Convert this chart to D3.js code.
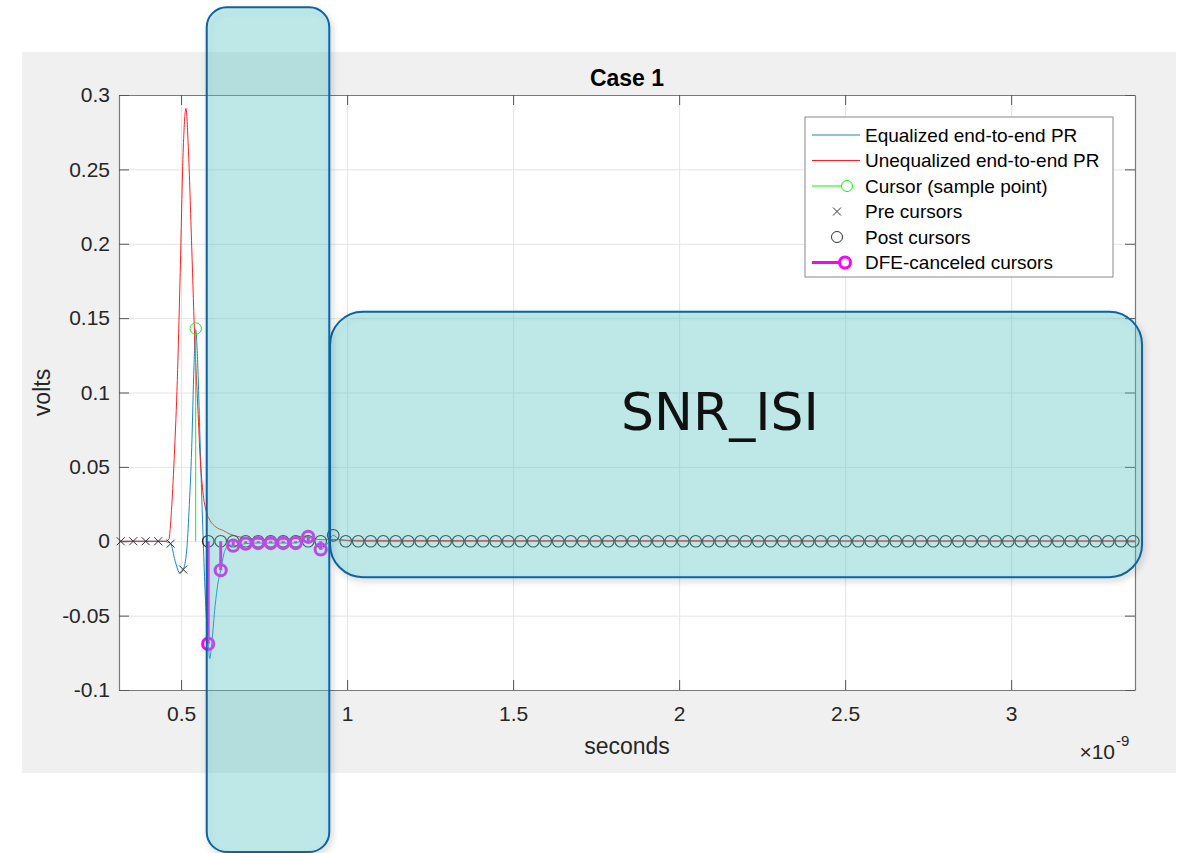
<!DOCTYPE html>
<html>
<head>
<meta charset="utf-8">
<script src="https://cdn.jsdelivr.net/npm/d3@7"></script>
<style>
    body { margin: 0; background: #fff; }
    svg text { font-family: "Liberation Sans", Arial, sans-serif; }
</style>
</head>
<body>
<div id="chart"></div>
<script>
// axis ticks
const xTicks = [0.5, 1, 1.5, 2, 2.5, 3];
const xTickLabels = ['0.5', '1', '1.5', '2', '2.5', '3'];
const yTicks = [-0.1, -0.05, 0, 0.05, 0.1, 0.15, 0.2, 0.25, 0.3];
const yTickLabels = ['-0.1', '-0.05', '0', '0.05', '0.1', '0.15', '0.2', '0.25', '0.3'];

// equalized pulse response (time in ns, volts)
const eqTime = [0.313, 0.4516, 0.4576, 0.4687, 0.4817, 0.4967, 0.5064, 0.517, 0.5238, 0.532, 0.5389, 0.544,
    0.55, 0.5555, 0.5615, 0.5675, 0.5736, 0.5817, 0.5862, 0.5931, 0.6022, 0.6112, 0.6193, 0.6323, 0.6473,
    0.657, 0.6946, 0.7323, 0.7699, 0.8076, 0.8452, 0.8642, 0.8829, 0.9004, 0.9205, 0.9395, 0.9582, 0.9787,
    1.039, 1.5, 2.0, 2.5, 3.0, 3.373];
const eqVolts = [0, 0, -0.0005, -0.0016, -0.013, -0.0215, -0.019, -0.006, 0.02, 0.063, 0.118, 0.142,
    0.12, 0.08, 0.035, -0.005, -0.04, -0.069, -0.079, -0.067, -0.044, -0.028, -0.0195, -0.006, -0.0025,
    -0.003, -0.0016, -0.0012, -0.0012, -0.0012, -0.0012, 0.001, 0.003, 0, -0.0055, -0.002, 0.004, 0.001,
    0, 0, 0, 0, 0, 0];

// unequalized pulse response
const uneqTime = [0.313, 0.45, 0.4585, 0.4636, 0.4666, 0.4717, 0.4801, 0.4886, 0.4967, 0.5067, 0.5148,
    0.5217, 0.532, 0.5419, 0.5494, 0.557, 0.5669, 0.5772, 0.5871, 0.6052, 0.6271, 0.6473, 0.6675, 0.6925,
    0.7377, 0.7979, 0.825, 0.85, 0.873, 0.895, 0.925, 0.96, 1.0, 1.5, 2.0, 2.5, 3.0, 3.373];
const uneqVolts = [0, 0, 0.0005, 0.0015, 0.007, 0.023, 0.06, 0.108, 0.175, 0.265, 0.291,
    0.265, 0.198, 0.131, 0.095, 0.058, 0.031, 0.019, 0.014, 0.0095, 0.0072, 0.0048, 0.0034, 0.0022,
    0.0013, 0.0009, 0.0015, 0.003, 0.0035, 0.002, 0.001, 0.0012, 0.0006, 0.0004, 0.0004, 0.0003, 0.0003, 0.0003];

// sampled cursors
const cursorTime = 0.544;
const cursorVolts = 0.143;
const symbolTime = 0.03765;
const preCursorVolts = [0, 0, 0, 0, -0.0016, -0.019];
const postCursorVolts = [
    0, 0, 0, 0, 0, 0, 0, 0, 0, 0,
    0.004, 0, 0, 0, 0, 0, 0, 0, 0, 0,
    0, 0, 0, 0, 0, 0, 0, 0, 0, 0,
    0, 0, 0, 0, 0, 0, 0, 0, 0, 0,
    0, 0, 0, 0, 0, 0, 0, 0, 0, 0,
    0, 0, 0, 0, 0, 0, 0, 0, 0, 0,
    0, 0, 0, 0, 0, 0, 0, 0, 0, 0,
    0, 0, 0, 0, 0
];
const dfeVolts = [-0.069, -0.0195, -0.003, -0.0016, -0.0012, -0.0012, -0.0012, -0.0012, 0.003, -0.0055];

const legendLabels = ['Equalized end-to-end PR', 'Unequalized end-to-end PR', 'Cursor (sample point)',
    'Pre cursors', 'Post cursors', 'DFE-canceled cursors'];

// highlighted regions, in data units
const bands = [
    { x0: 0.9486, x1: 3.3943, y0: -0.0242, y1: 0.1543, r: 33, label: 'SNR_ISI', lx: 2.123, ly: 0.0748 },
    { x0: 0.5772, x1: 0.9464, y0: -0.2089, y1: 0.359, r: 20 }
];

const W = 1182, H = 853;
const margin = { top: 95, left: 119 };
const width = 1016, height = 595;

const svg = d3.select('#chart').append('svg')
    .attr('width', W)
    .attr('height', H);

const shadow = svg.append('defs').append('filter')
    .attr('id', 'shadow')
    .attr('x', '-10%').attr('y', '-10%')
    .attr('width', '130%').attr('height', '130%');
shadow.append('feDropShadow')
    .attr('dx', 2).attr('dy', 3)
    .attr('stdDeviation', 3)
    .attr('flood-color', '#000')
    .attr('flood-opacity', 0.25);

// figure background
svg.append('rect')
    .attr('x', 22).attr('y', 52)
    .attr('width', 1154).attr('height', 721)
    .attr('fill', '#f0f0f0');

const chart = svg.append('g')
    .attr('transform', `translate(${margin.left},${margin.top})`);

chart.append('rect')
    .attr('width', width)
    .attr('height', height)
    .attr('fill', '#fff');

const xScale = d3.scaleLinear().domain([0.313, 3.373]).range([0, width]);
const yScale = d3.scaleLinear().domain([-0.1, 0.3]).range([height, 0]);

// gridlines
chart.append('g')
    .attr('transform', `translate(0,${height})`)
    .call(d3.axisBottom(xScale).tickValues(xTicks).tickSize(-height).tickFormat(''))
    .call(g => g.select('.domain').remove())
    .selectAll('line').attr('stroke', '#e4e4e4');
chart.append('g')
    .call(d3.axisLeft(yScale).tickValues(yTicks).tickSize(-width).tickFormat(''))
    .call(g => g.select('.domain').remove())
    .selectAll('line').attr('stroke', '#e4e4e4');

// axes (box with inward ticks on every side)
const styleAxis = g => {
    g.select('.domain').attr('stroke', '#7a7a7a').attr('stroke-width', 1.2);
    g.selectAll('.tick line').attr('stroke', '#555');
    g.selectAll('text')
        .attr('fill', '#262626')
        .style('font-size', '21px')
        .style('font-family', '"Liberation Sans", Arial, sans-serif');
};
chart.append('g')
    .attr('transform', `translate(0,${height})`)
    .call(d3.axisBottom(xScale).tickValues(xTicks).tickFormat((d, i) => xTickLabels[i])
        .tickSize(-10).tickSizeOuter(0).tickPadding(16))
    .call(styleAxis);
chart.append('g')
    .call(d3.axisTop(xScale).tickValues(xTicks).tickFormat('').tickSize(-10).tickSizeOuter(0))
    .call(styleAxis);
chart.append('g')
    .call(d3.axisLeft(yScale).tickValues(yTicks).tickFormat((d, i) => yTickLabels[i])
        .tickSize(-10).tickSizeOuter(0).tickPadding(9))
    .call(styleAxis);
chart.append('g')
    .attr('transform', `translate(${width},0)`)
    .call(d3.axisRight(yScale).tickValues(yTicks).tickFormat('').tickSize(-10).tickSizeOuter(0))
    .call(styleAxis);

// pulse responses
const line = d3.line()
    .x(d => xScale(d[0]))
    .y(d => yScale(d[1]))
    .curve(d3.curveMonotoneX);

chart.append('path')
    .datum(d3.zip(eqTime, eqVolts))
    .attr('d', line)
    .attr('fill', 'none')
    .attr('stroke', '#1a86d0')
    .attr('stroke-width', 1);

chart.append('path')
    .datum(d3.zip(uneqTime, uneqVolts))
    .attr('d', line)
    .attr('fill', 'none')
    .attr('stroke', '#ff2020')
    .attr('stroke-width', 1);

// cursor stem
chart.append('line')
    .attr('x1', xScale(cursorTime)).attr('x2', xScale(cursorTime))
    .attr('y1', yScale(0)).attr('y2', yScale(cursorVolts))
    .attr('stroke', '#00ff00');
chart.append('circle')
    .attr('cx', xScale(cursorTime))
    .attr('cy', yScale(cursorVolts))
    .attr('r', 5.7)
    .attr('fill', 'none')
    .attr('stroke', '#00ff00');

// pre cursors
const preData = preCursorVolts.map((v, i) => ({ t: cursorTime - (preCursorVolts.length - i) * symbolTime, v }));
chart.selectAll('.pre')
    .data(preData)
    .join('path')
    .attr('class', 'pre')
    .attr('transform', d => `translate(${xScale(d.t)},${yScale(d.v)})`)
    .attr('d', 'M-4,-4L4,4M-4,4L4,-4')
    .attr('stroke', '#333')
    .attr('stroke-width', 1);

// post cursors
const postData = postCursorVolts.map((v, i) => ({ t: cursorTime + (i + 1) * symbolTime, v }));
chart.selectAll('.post')
    .data(postData)
    .join('circle')
    .attr('class', 'post')
    .attr('cx', d => xScale(d.t))
    .attr('cy', d => yScale(d.v))
    .attr('r', 5.8)
    .attr('fill', 'none')
    .attr('stroke', '#2a2a2a')
    .attr('stroke-width', 1.1);

// DFE-canceled cursors (stems)
const dfeData = dfeVolts.map((v, i) => ({ t: cursorTime + (i + 1) * symbolTime, v }));
const dfe = chart.selectAll('.dfe')
    .data(dfeData)
    .join('g')
    .attr('class', 'dfe');
dfe.append('line')
    .attr('x1', d => xScale(d.t)).attr('x2', d => xScale(d.t))
    .attr('y1', yScale(0)).attr('y2', d => yScale(d.v))
    .attr('stroke', '#ff00ff')
    .attr('stroke-width', 3);
dfe.append('circle')
    .attr('cx', d => xScale(d.t))
    .attr('cy', d => yScale(d.v))
    .attr('r', 5.6)
    .attr('fill', 'none')
    .attr('stroke', '#ff00ff')
    .attr('stroke-width', 3);

// titles
svg.append('text')
    .attr('x', margin.left + width / 2).attr('y', 86)
    .attr('text-anchor', 'middle')
    .style('font-size', '23px').style('font-weight', 'bold')
    .attr('fill', '#000')
    .text('Case 1');
svg.append('text')
    .attr('x', margin.left + width / 2).attr('y', 754)
    .attr('text-anchor', 'middle')
    .style('font-size', '23px')
    .attr('fill', '#262626')
    .text('seconds');
svg.append('text')
    .attr('transform', `translate(50,${margin.top + height / 2}) rotate(-90)`)
    .attr('text-anchor', 'middle')
    .style('font-size', '23px')
    .attr('fill', '#262626')
    .text('volts');
svg.append('text')
    .attr('x', 1115).attr('y', 759)
    .attr('text-anchor', 'end')
    .style('font-size', '21px')
    .attr('fill', '#262626')
    .text('×10');
svg.append('text')
    .attr('x', 1116).attr('y', 746)
    .style('font-size', '15px')
    .attr('fill', '#262626')
    .text('-9');

// legend
const legend = svg.append('g').attr('transform', 'translate(805,117)');
legend.append('rect')
    .attr('width', 308).attr('height', 160)
    .attr('fill', '#fff')
    .attr('stroke', '#8a8a8a');
const rows = legend.selectAll('.row')
    .data(legendLabels)
    .join('g')
    .attr('class', 'row')
    .attr('transform', (d, i) => `translate(0,${18 + i * 25.5})`);
rows.append('text')
    .attr('x', 60).attr('dy', '0.35em')
    .style('font-size', '19px')
    .attr('fill', '#000')
    .text(d => d);
rows.each(function (d, i) {
    const r = d3.select(this);
    if (i === 0 || i === 1) {
        r.append('line').attr('x1', 7).attr('x2', 55)
            .attr('stroke', i === 0 ? '#1a86d0' : '#ff2020');
    } else if (i === 2) {
        r.append('line').attr('x1', 7).attr('x2', 36).attr('stroke', '#00ff00');
        r.append('circle').attr('cx', 42).attr('r', 5.5).attr('fill', 'none').attr('stroke', '#00ff00');
    } else if (i === 3) {
        r.append('path').attr('transform', 'translate(32,0)')
            .attr('d', 'M-4,-4L4,4M-4,4L4,-4').attr('stroke', '#333');
    } else if (i === 4) {
        r.append('circle').attr('cx', 32).attr('r', 5.5).attr('fill', 'none').attr('stroke', '#333');
    } else {
        r.append('line').attr('x1', 7).attr('x2', 35).attr('stroke', '#ff00ff').attr('stroke-width', 3);
        r.append('circle').attr('cx', 40).attr('r', 5.5).attr('fill', 'none')
            .attr('stroke', '#ff00ff').attr('stroke-width', 3);
    }
});

// highlighted regions
const bandG = chart.selectAll('.band')
    .data(bands)
    .join('g')
    .attr('class', 'band');
bandG.append('rect')
    .attr('x', d => xScale(d.x0))
    .attr('y', d => yScale(d.y1))
    .attr('width', d => xScale(d.x1) - xScale(d.x0))
    .attr('height', d => yScale(d.y0) - yScale(d.y1))
    .attr('rx', d => d.r)
    .attr('fill', 'rgba(90,205,205,0.32)')
    .attr('stroke', '#0b63a3')
    .attr('stroke-width', 2)
    .attr('filter', 'url(#shadow)');
bandG.filter(d => d.label)
    .append('text')
    .attr('x', d => xScale(d.lx))
    .attr('y', d => yScale(d.ly))
    .attr('text-anchor', 'middle')
    .style('font-family', '"DejaVu Sans", Verdana, sans-serif')
    .style('font-size', '52px')
    .attr('fill', '#111')
    .text(d => d.label);
</script>
</body>
</html>
